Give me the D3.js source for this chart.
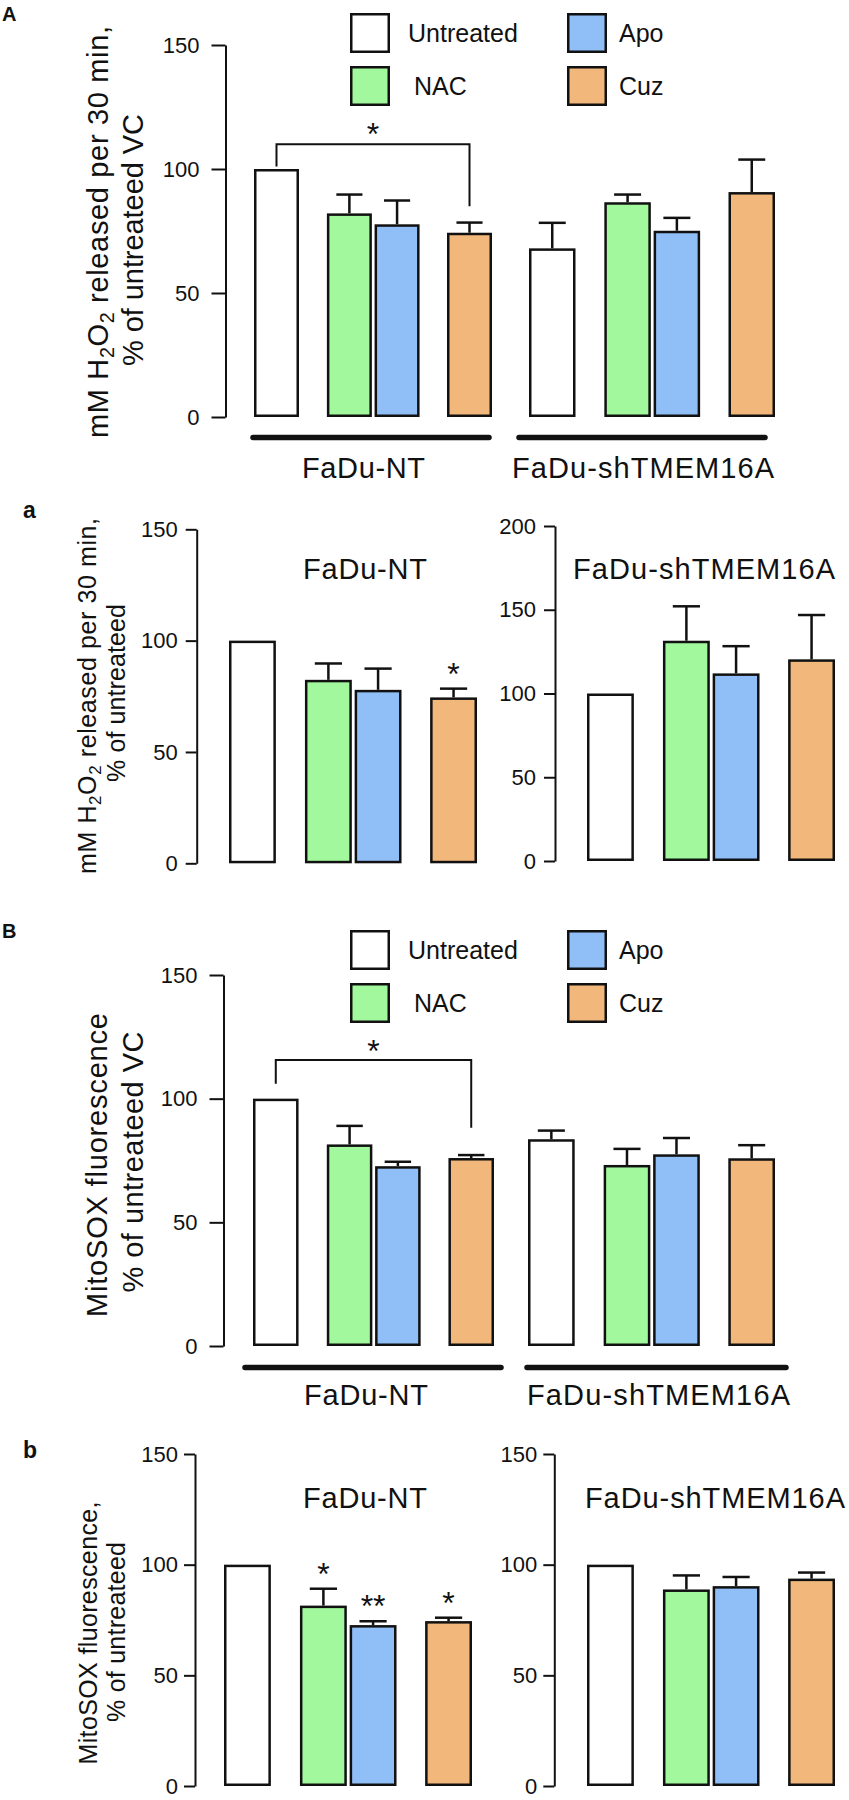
<!DOCTYPE html>
<html><head><meta charset="utf-8">
<script src="https://cdn.jsdelivr.net/npm/d3@7"></script>
<style>
body{margin:0;background:#fff}
svg{display:block}
text{font-family:"Liberation Sans",Arial,Helvetica,sans-serif;fill:#111}
</style>
</head><body>
<svg id="chart" width="849" height="1800"></svg>
<script>
// ---------------- DATA ----------------
const treatments = ["Untreated", "NAC", "Apo", "Cuz"];
const cellLines = ["FaDu-NT", "FaDu-shTMEM16A"];
const treatmentColors = ["#ffffff", "#a2f99d", "#90bff7", "#f1b77b"];
const ticks150 = [0, 50, 100, 150];
const ticks200 = [0, 50, 100, 150, 200];

// Panel A: H2O2 released, % of untreated VC
const A_NT_mean = [100, 82.1, 77.7, 74.3];
const A_NT_sem  = [0, 8.1, 10.1, 4.6];
const A_sh_mean = [68.0, 86.6, 75.1, 90.7];
const A_sh_sem  = [10.8, 3.6, 5.7, 13.6];

// Panel a: H2O2, % of untreated (each line normalised)
const a_NT_mean = [100, 82.4, 77.9, 74.5];
const a_NT_sem  = [0, 7.9, 10.1, 4.5];
const a_NT_stars = ["", "", "", "*"];
const a_sh_mean = [100, 131.5, 112.0, 120.4];
const a_sh_sem  = [0, 21.3, 17.0, 27.2];

// Panel B: MitoSOX fluorescence, % of untreated VC
const B_NT_mean = [100, 81.5, 72.7, 76.0];
const B_NT_sem  = [0, 8.0, 2.3, 1.7];
const B_sh_mean = [83.6, 73.2, 77.5, 75.9];
const B_sh_sem  = [4.0, 7.0, 7.1, 5.8];

// Panel b: MitoSOX fluorescence, % of untreated
const b_NT_mean = [100, 81.5, 72.7, 74.5];
const b_NT_sem  = [0, 8.2, 2.3, 2.1];
const b_NT_stars = ["", "*", "**", "*"];
const b_sh_mean = [100, 88.8, 90.3, 93.7];
const b_sh_sem  = [0, 6.9, 4.7, 3.3];

// significance brackets (data units): bracket top, left-leg end, right-leg end, star level
const A_bracket = {from: "Untreated", to: "Cuz", top: 110, leftEnd: 101, rightEnd: 85, star: 117};
const B_bracket = {from: "Untreated", to: "Cuz", top: 115.6, leftEnd: 106, rightEnd: 88.2, star: 122};

// ---------------- DRAWING ----------------
const FONT = '"Liberation Sans",Arial,Helvetica,sans-serif';
const INK = "#111";
const SW = 2.5;
const STAR = 32;
const svg = d3.select("#chart");
svg.append("rect").attr("width", 849).attr("height", 1800).attr("fill", "#fff");

// layout of bars inside a cell-line group (in bar-width units)
const slotUnit = {Untreated: 0, NAC: 1.62, Apo: 2.68, Cuz: 4.29};
const slotSpan = 5.29;

function drawAxis(xPos, y, tickVals, tickLen, pad) {
  const g = svg.append("g").attr("transform", `translate(${xPos},0)`)
    .call(d3.axisLeft(y).tickValues(tickVals).tickSize(tickLen).tickSizeOuter(0)
      .tickPadding(pad).tickFormat(d3.format("d")));
  g.attr("font-family", FONT).attr("font-size", 22);
  g.select(".domain").attr("stroke", INK).attr("stroke-width", 2);
  g.selectAll(".tick line").attr("stroke", INK).attr("stroke-width", 2);
  g.selectAll(".tick text").attr("fill", INK);
}

function starText(x, cy, s) {
  svg.append("text").attr("x", x).attr("y", cy + STAR * 0.57)
    .attr("text-anchor", "middle").attr("font-size", STAR).text(s);
}

function drawGroup(start, end, y, means, sems, stars) {
  const x = d3.scaleLinear().domain([0, slotSpan]).range([start, end]);
  const w = x(1) - x(0);
  const g = svg.append("g");
  treatments.forEach((t, i) => {
    const x0 = x(slotUnit[t]);
    const cx = x0 + w / 2;
    const top = means[i] + sems[i];
    if (sems[i] > 0) {
      g.append("line").attr("x1", cx).attr("x2", cx)
        .attr("y1", y(means[i])).attr("y2", y(top) + SW / 2)
        .attr("stroke", INK).attr("stroke-width", SW);
      g.append("line").attr("x1", cx - w * 0.29).attr("x2", cx + w * 0.29)
        .attr("y1", y(top) + SW / 2).attr("y2", y(top) + SW / 2)
        .attr("stroke", INK).attr("stroke-width", SW);
    }
    g.append("rect")
      .attr("x", x0 + SW / 2).attr("y", y(means[i]) + SW / 2)
      .attr("width", w - SW).attr("height", y(0) - y(means[i]) - SW)
      .attr("fill", treatmentColors[i]).attr("stroke", INK).attr("stroke-width", SW);
    if (stars && stars[i]) starText(cx, y(top) - 21, stars[i]);
  });
  return {x, w};
}

function drawBracket(grp, y, br) {
  const xl = grp.x(slotUnit[br.from]) + grp.w / 2;
  const xr = grp.x(slotUnit[br.to]) + grp.w / 2;
  const p = d3.path();
  p.moveTo(xl, y(br.leftEnd)); p.lineTo(xl, y(br.top)); p.lineTo(xr, y(br.top)); p.lineTo(xr, y(br.rightEnd));
  svg.append("path").attr("d", p.toString()).attr("fill", "none")
    .attr("stroke", INK).attr("stroke-width", 2);
  starText((xl + xr) / 2, y(br.star), "*");
}

function drawLegend(top) {
  const cols = [350, 567];
  const textX = [[408, 414], [619, 619]]; // [col][row]
  const order = [[0, 1], [2, 3]]; // col 0: Untreated, NAC ; col 1: Apo, Cuz
  order.forEach((col, c) => col.forEach((ti, r) => {
    const ry = top + r * 53;
    svg.append("rect").attr("x", cols[c] + SW / 2).attr("y", ry + SW / 2)
      .attr("width", 40 - SW).attr("height", 40 - SW)
      .attr("fill", treatmentColors[ti]).attr("stroke", INK).attr("stroke-width", SW);
    svg.append("text").attr("x", textX[c][r]).attr("y", ry + 28.5)
      .attr("font-size", 25).text(treatments[ti]);
  }));
}

function yTitle(parts, xBase, cy, size, len) {
  const t = svg.append("text")
    .attr("transform", `translate(${xBase},${cy}) rotate(-90)`)
    .attr("text-anchor", "middle").attr("font-size", size)
    .attr("textLength", len).attr("lengthAdjust", "spacing");
  let shift = 0;
  parts.forEach(p => {
    const ts = t.append("tspan").text(p.t);
    if (p.sub) { ts.attr("font-size", size * 0.68).attr("dy", size * 0.2 - shift); shift = size * 0.2; }
    else if (shift) { ts.attr("dy", -shift); shift = 0; }
  });
}
const h2o2Line = [{t: "mM H"}, {t: "2", sub: true}, {t: "O"}, {t: "2", sub: true}, {t: " released per 30 min,"}];

function groupLabel(text, x, y, len) {
  svg.append("text").attr("x", x).attr("y", y)
    .attr("font-size", 29).attr("textLength", len).attr("lengthAdjust", "spacing").text(text);
}
function underline(x1, x2, y) {
  svg.append("line").attr("x1", x1).attr("x2", x2).attr("y1", y).attr("y2", y)
    .attr("stroke", INK).attr("stroke-width", 5.5).attr("stroke-linecap", "round");
}
function panelLetter(l, x, y, size) {
  svg.append("text").attr("x", x).attr("y", y).attr("font-size", size)
    .attr("font-weight", "bold").text(l);
}

// ===== Panel A =====
panelLetter("A", 2, 21, 20);
drawLegend(13);
const yA = d3.scaleLinear().domain([0, 150]).range([417, 45]);
drawAxis(225.5, yA, ticks150, 14, 12);
const gA1 = drawGroup(254, 492, yA, A_NT_mean, A_NT_sem, null);
drawGroup(529, 775, yA, A_sh_mean, A_sh_sem, null);
drawBracket(gA1, yA, A_bracket);
underline(253, 489, 437.5);
underline(519, 765, 437.5);
groupLabel(cellLines[0], 302, 478, 123);
groupLabel(cellLines[1], 512, 478, 262);
yTitle(h2o2Line, 108, 232, 29, 412);
yTitle([{t: "% of untreateed VC"}], 143, 240, 29, 252);

// ===== Panel a =====
panelLetter("a", 23, 518, 23);
const ya1 = d3.scaleLinear().domain([0, 150]).range([863.3, 529.3]);
drawAxis(196.7, ya1, ticks150, 11, 8);
drawGroup(229, 477, ya1, a_NT_mean, a_NT_sem, a_NT_stars);
groupLabel(cellLines[0], 303, 579, 124);
const ya2 = d3.scaleLinear().domain([0, 200]).range([861, 526]);
drawAxis(555, ya2, ticks200, 11, 8);
drawGroup(587, 835, ya2, a_sh_mean, a_sh_sem, null);
groupLabel(cellLines[1], 573, 579, 262);
yTitle(h2o2Line, 96, 696, 25, 356);
yTitle([{t: "% of untreateed"}], 125, 693, 25, 178);

// ===== Panel B =====
panelLetter("B", 2, 938, 20);
drawLegend(930);
const yB = d3.scaleLinear().domain([0, 150]).range([1346, 975]);
drawAxis(223.5, yB, ticks150, 14, 12);
const gB1 = drawGroup(253, 494, yB, B_NT_mean, B_NT_sem, null);
drawGroup(528, 775, yB, B_sh_mean, B_sh_sem, null);
drawBracket(gB1, yB, B_bracket);
underline(245, 501, 1367.5);
underline(527, 786, 1367.5);
groupLabel(cellLines[0], 304, 1405, 124);
groupLabel(cellLines[1], 527, 1405, 263);
yTitle([{t: "MitoSOX fluorescence"}], 107, 1165, 29, 304);
yTitle([{t: "% of untreateed VC"}], 143, 1162, 29, 261);

// ===== Panel b =====
panelLetter("b", 23, 1458, 23);
const yb1 = d3.scaleLinear().domain([0, 150]).range([1786, 1454]);
drawAxis(195, yb1, ticks150, 11, 6);
drawGroup(224, 472, yb1, b_NT_mean, b_NT_sem, b_NT_stars);
groupLabel(cellLines[0], 303, 1508, 124);
const yb2 = d3.scaleLinear().domain([0, 150]).range([1786, 1454]);
drawAxis(554.3, yb2, ticks150, 11, 6);
drawGroup(587, 835, yb2, b_sh_mean, b_sh_sem, null);
groupLabel(cellLines[1], 585, 1508, 260);
yTitle([{t: "MitoSOX fluorescence,"}], 97, 1633, 25, 263);
yTitle([{t: "% of untreateed"}], 125, 1632, 25, 180);
</script>
</body></html>
